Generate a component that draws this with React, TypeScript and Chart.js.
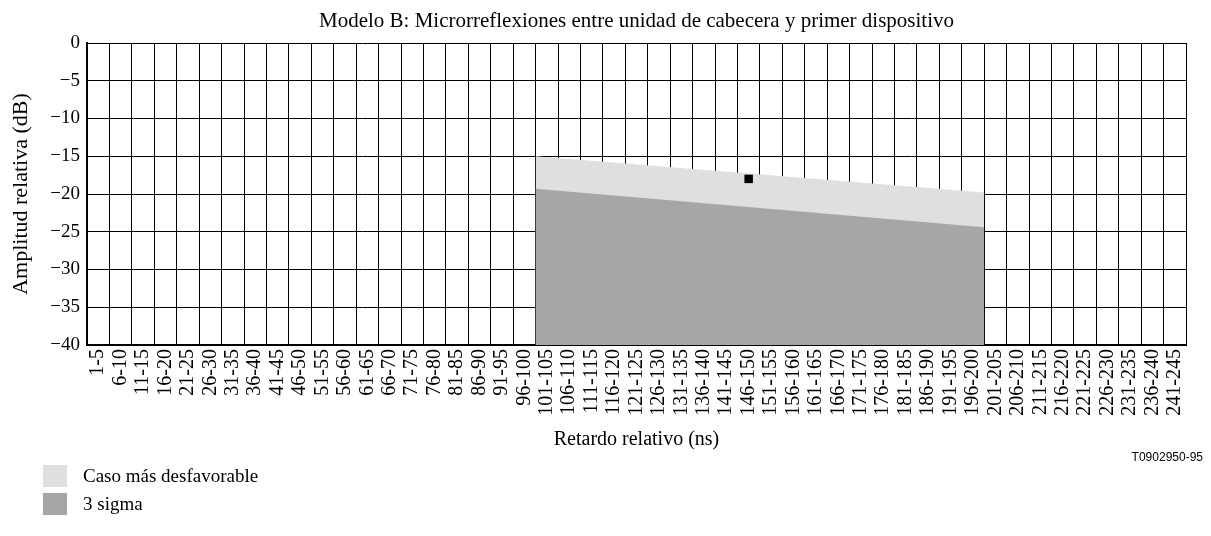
import React, { useEffect, useRef } from "react";
import { Chart, registerables } from "chart.js";

Chart.register(...registerables);

const categories = [
  "1-5", "6-10", "11-15", "16-20", "21-25", "26-30", "31-35", "36-40", "41-45", "46-50",
  "51-55", "56-60", "61-65", "66-70", "71-75", "76-80", "81-85", "86-90", "91-95", "96-100",
  "101-105", "106-110", "111-115", "116-120", "121-125", "126-130", "131-135", "136-140", "141-145", "146-150",
  "151-155", "156-160", "161-165", "166-170", "171-175", "176-180", "181-185", "186-190", "191-195", "196-200",
  "201-205", "206-210", "211-215", "216-220", "221-225", "226-230", "231-235", "236-240", "241-245",
];

// Filled band runs from the left edge of the first category to the right edge of the last one
const bandCategories = ["101-105", "196-200"];
const worstCaseValues = [-15, -19.8];
const threeSigmaValues = [-19.3, -24.4];

const markerCategories = ["146-150"];
const markerValues = [-18];

const yMin = -40;
const yMax = 0;
const yStep = 5;

const seriesNames = ["Caso más desfavorable", "3 sigma"];
const seriesColors = ["#dfdfdf", "#a6a6a6"];

const chartTitle = "Modelo B: Microrreflexiones entre unidad de cabecera y primer dispositivo";
const xTitle = "Retardo relativo (ns)";
const yTitle = "Amplitud relativa (dB)";
const figureCode = "T0902950-95";

const SERIF = "'Liberation Serif', 'Times New Roman', serif";

function bandPoints(values: number[]) {
  const startIdx = categories.indexOf(bandCategories[0]);
  const endIdx = categories.indexOf(bandCategories[1]) + 1;
  return [
    { x: startIdx, y: values[0] },
    { x: endIdx, y: values[1] },
  ];
}

const CANVAS_W = 1195;
const CANVAS_H = 460;

export default function App() {
  const canvasRef = useRef<HTMLCanvasElement | null>(null);

  useEffect(() => {
    if (!canvasRef.current) return;
    const chart = new Chart(canvasRef.current, {
      type: "line",
      data: {
        labels: categories,
        datasets: [
          {
            label: seriesNames[0],
            data: bandPoints(worstCaseValues),
            xAxisID: "xData",
            yAxisID: "y",
            fill: "start",
            backgroundColor: seriesColors[0],
            borderWidth: 0,
            borderColor: "transparent",
            pointRadius: 0,
            tension: 0,
            order: 2,
          },
          {
            label: seriesNames[1],
            data: bandPoints(threeSigmaValues),
            xAxisID: "xData",
            yAxisID: "y",
            fill: "start",
            backgroundColor: seriesColors[1],
            borderWidth: 0,
            borderColor: "transparent",
            pointRadius: 0,
            tension: 0,
            order: 1,
          },
          {
            label: "marker",
            data: markerCategories.map((c, i) => ({ x: c, y: markerValues[i] })),
            xAxisID: "x",
            yAxisID: "y",
            showLine: false,
            fill: false,
            pointStyle: "rect",
            pointRadius: 6,
            pointBackgroundColor: "#000",
            pointBorderColor: "#000",
            pointBorderWidth: 0,
            order: 0,
          },
        ] as any,
      },
      options: {
        animation: false,
        responsive: false,
        maintainAspectRatio: false,
        layout: { padding: { left: 0, right: 5, top: 0, bottom: 0 } },
        plugins: {
          legend: { display: false },
          tooltip: { enabled: false },
          title: {
            display: true,
            text: chartTitle,
            fullSize: false,
            color: "#000",
            font: { family: SERIF, size: 21, weight: "normal" },
            padding: { top: 1, bottom: 8.8 },
          },
        },
        scales: {
          x: {
            type: "category",
            position: "bottom",
            offset: true,
            grid: { offset: true, color: "#000", lineWidth: 1, drawTicks: false },
            border: { color: "#000", width: 2 },
            ticks: {
              autoSkip: false,
              maxRotation: 90,
              minRotation: 90,
              padding: 4,
              color: "#000",
              font: { family: SERIF, size: 20 },
            },
            title: {
              display: true,
              text: xTitle,
              color: "#000",
              font: { family: SERIF, size: 20 },
              padding: { top: 0, bottom: 16 },
            },
            afterFit: (scale: any) => {
              scale.height = CANVAS_H - 337;
            },
          },
          xData: {
            type: "linear",
            position: "bottom",
            display: false,
            min: 0,
            max: categories.length,
          },
          y: {
            type: "linear",
            min: yMin,
            max: yMax,
            grid: { color: "#000", lineWidth: 1, drawTicks: false },
            border: { color: "#000", width: 2 },
            ticks: {
              stepSize: yStep,
              padding: 7,
              color: "#000",
              font: { family: SERIF, size: 19 },
              callback: (v: any) => String(v).replace("-", "\u2212"),
            },
            title: {
              display: true,
              text: yTitle,
              color: "#000",
              font: { family: SERIF, size: 22 },
              padding: { top: 0, bottom: 0 },
            },
            afterFit: (scale: any) => {
              scale.width = 79;
            },
          },
        },
      } as any,
    });
    return () => chart.destroy();
  }, []);

  const legendRow = (name: string, color: string, top: number) => (
    <div
      key={name}
      style={{ position: "absolute", left: 35, top, height: 22, display: "flex", alignItems: "center" }}
    >
      <div style={{ width: 24, height: 22, background: color }} />
      <span
        style={{
          marginLeft: 16,
          fontFamily: SERIF,
          fontSize: 19,
          lineHeight: "22px",
          color: "#000",
          whiteSpace: "nowrap",
        }}
      >
        {name}
      </span>
    </div>
  );

  return (
    <div style={{ position: "relative", width: CANVAS_W, height: 520 }}>
      <canvas
        ref={canvasRef}
        width={CANVAS_W}
        height={CANVAS_H}
        style={{ display: "block", width: CANVAS_W, height: CANVAS_H }}
      />
      <div
        style={{
          position: "absolute",
          right: 0,
          top: 442,
          fontFamily: "'Liberation Sans', Arial, sans-serif",
          fontSize: 12,
          color: "#000",
        }}
      >
        {figureCode}
      </div>
      {legendRow(seriesNames[0], seriesColors[0], 457)}
      {legendRow(seriesNames[1], seriesColors[1], 485)}
    </div>
  );
}
